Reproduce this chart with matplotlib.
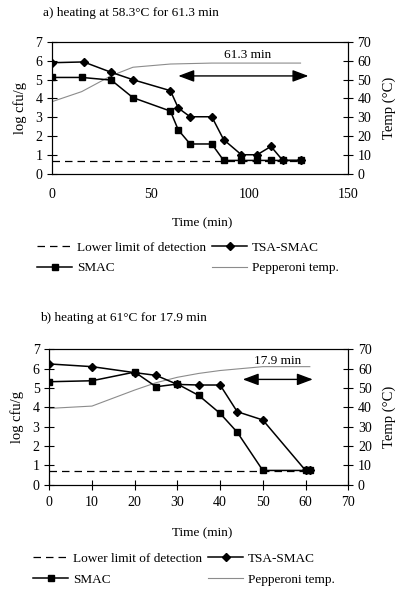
import matplotlib
matplotlib.use("Agg")
import matplotlib.pyplot as plt
import numpy as np

plt.rcParams['font.family'] = ['Liberation Serif', 'DejaVu Serif']
plt.rcParams['font.size'] = 9.5

# Panel a
a_title = "a) heating at 58.3°C for 61.3 min"
a_tsa_t = [0, 16, 30, 41, 60, 64, 70, 81, 87, 96, 104, 111, 117, 126]
a_tsa_v = [5.89, 5.93, 5.38, 4.99, 4.41, 3.49, 3.03, 3.03, 1.82, 1.02, 1.02, 1.46, 0.72, 0.72]
a_smac_t = [0, 15, 30, 41, 60, 64, 70, 81, 87, 96, 104, 111, 117, 126]
a_smac_v = [5.11, 5.11, 4.97, 4.04, 3.33, 2.33, 1.59, 1.59, 0.72, 0.72, 0.72, 0.72, 0.72, 0.72]
a_temp_t = [0, 15, 30, 41, 60, 81, 126]
a_temp_v = [38.3, 43.6, 52.0, 56.5, 58.2, 58.7, 58.7]
a_lld_t = [0, 126]
a_arrow = [64, 130]
a_arrow_label = "61.3 min"
a_xticks = [0, 50, 100, 150]

# Panel b
b_title = "b) heating at 61°C for 17.9 min"
b_tsa_t = [0, 10, 20, 25, 30, 35, 40, 44, 50, 60, 61]
b_tsa_v = [6.24, 6.10, 5.79, 5.65, 5.18, 5.15, 5.15, 3.77, 3.34, 0.73, 0.73]
b_smac_t = [0, 10, 20, 25, 30, 35, 40, 44, 50, 60, 61]
b_smac_v = [5.32, 5.37, 5.82, 5.06, 5.20, 4.61, 3.68, 2.71, 0.73, 0.73, 0.73]
b_temp_t = [0, 10, 20, 25, 30, 35, 40, 45, 50, 61]
b_temp_v = [39.4, 40.6, 48.9, 52.7, 55.5, 57.5, 59.0, 60.0, 61.0, 61.0]
b_lld_t = [0, 61]
b_arrow = [45.3, 61.7]
b_arrow_label = "17.9 min"
b_xticks = [0, 10, 20, 30, 40, 50, 60, 70]

lld = 0.7

fig = plt.figure(figsize=(4.04, 5.96), dpi=100)


def panel(rect, title, title_x, title_y, tsa_t, tsa_v, smac_t, smac_v, temp_t, temp_v,
          lld_t, arrow, arrow_y, label, label_y, xticks, xticklen, xpad, xlab_y, leg_x, leg_y):
    ax = fig.add_axes(rect)
    ax2 = ax.twinx()
    ax.set_zorder(ax2.get_zorder() + 1)
    ax.patch.set_visible(False)
    ax2.plot(temp_t, temp_v, color='#8c8c8c', lw=0.8)
    ax2.set_ylim(0, 70)
    ax2.set_yticks(np.arange(0, 71, 10))
    ax2.set_ylabel("Temp (°C)", fontsize=10.5, labelpad=8)
    ax2.tick_params(direction='inout', length=7, width=0.8, labelsize=10)

    l1, = ax.plot(lld_t, [lld] * len(lld_t), ls=(0, (6, 4)), color='black', lw=0.9)
    l3, = ax.plot(tsa_t, tsa_v, color='black', lw=1.1, marker='D', ms=4)
    l2, = ax.plot(smac_t, smac_v, color='black', lw=1.1, marker='s', ms=5)
    l4, = ax2.plot([], [], color='#8c8c8c', lw=0.8)
    ax.set_ylim(0, 7)
    ax.set_yticks(range(0, 8))
    ax.set_xlim(xticks[0], xticks[-1])
    ax.set_xticks(xticks)
    ax.set_ylabel("log cfu/g", fontsize=10.5, labelpad=6)
    ax.tick_params(axis='y', direction='inout', length=7, width=0.8, labelsize=10)
    ax.tick_params(axis='x', direction='inout', length=xticklen, width=0.8, pad=xpad,
                   labelsize=10)
    ax.annotate('', xy=(arrow[0], arrow_y), xytext=(arrow[1], arrow_y),
                arrowprops=dict(arrowstyle='<|-|>,head_length=0.8,head_width=0.3',
                                color='black', lw=1.0,
                                mutation_scale=12, shrinkA=0, shrinkB=0))
    ax.text((arrow[0] + arrow[1]) / 2 + (label_y[1]), label_y[0], label,
            ha='center', va='center')
    fig.text(title_x, title_y, title, ha='left', va='center')
    fig.text(0.5, xlab_y, "Time (min)", ha='center', va='center')
    fig.legend([l1, l2, l3, l4],
               ["Lower limit of detection", "SMAC", "TSA-SMAC", "Pepperoni temp."],
               ncol=2, loc='center left', bbox_to_anchor=(leg_x, leg_y), frameon=False,
               handlelength=2.65, handletextpad=0.38, borderpad=0, borderaxespad=0,
               columnspacing=0.45, labelspacing=0.62)
    return ax


panel([0.129, 0.708, 0.732, 0.222], a_title, 0.106, 0.978,
      a_tsa_t, a_tsa_v, a_smac_t, a_smac_v, a_temp_t, a_temp_v,
      a_lld_t, a_arrow, 5.19, a_arrow_label, (6.3, 2), a_xticks, 0, 10, 0.626,
      0.092, 0.567)
panel([0.122, 0.187, 0.740, 0.227], b_title, 0.099, 0.466,
      b_tsa_t, b_tsa_v, b_smac_t, b_smac_v, b_temp_t, b_temp_v,
      b_lld_t, b_arrow, 5.44, b_arrow_label, (6.41, 0), b_xticks, 7, 5, 0.106,
      0.082, 0.045)

fig.savefig("out.png", dpi=100)
